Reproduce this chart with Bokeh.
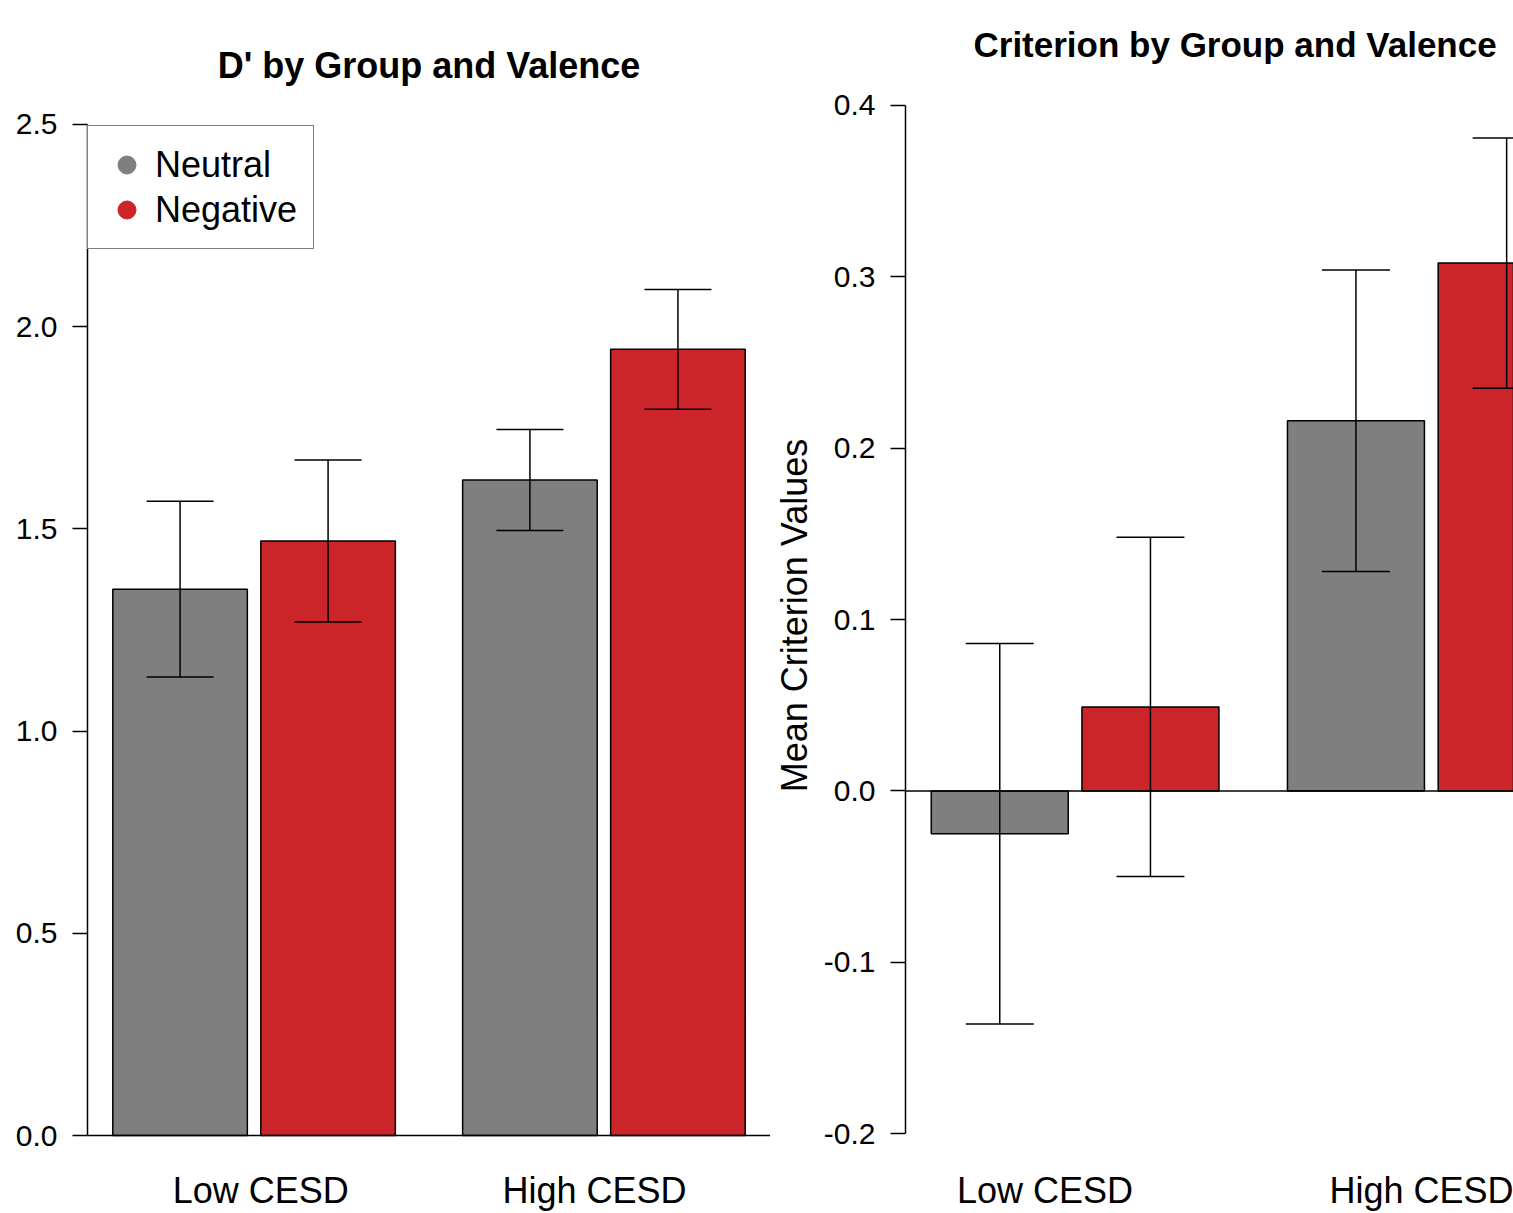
import numpy as np
from bokeh.plotting import figure
from bokeh.models import (ColumnDataSource, Range1d, FixedTicker, Span, Whisker, TeeHead,
                          Legend, LegendItem, NumeralTickFormatter)
from bokeh.layouts import row
from bokeh.embed import file_html
from bokeh.resources import INLINE

# ---------------- data ----------------
groups = ["Low CESD", "High CESD"]
valences = ["Neutral", "Negative"]

dprime_neutral = [1.351, 1.621]
dprime_negative = [1.470, 1.944]
dprime_neutral_err = [0.217, 0.125]
dprime_negative_err = [0.200, 0.148]

crit_neutral = [-0.025, 0.216]
crit_negative = [0.049, 0.308]
crit_neutral_err = [0.111, 0.088]
crit_negative_err = [0.099, 0.073]

dprime_ticks = [0.0, 0.5, 1.0, 1.5, 2.0, 2.5]
crit_ticks = [-0.2, -0.1, 0.0, 0.1, 0.2, 0.3, 0.4]

# ---------------- style / layout ----------------
FONT = "Liberation Sans"
COLORS = {"Neutral": "#7F7F7F", "Negative": "#CC2529"}
BAR_W, INNER_GAP, GROUP_GAP = 1.0, 0.1, 0.5
LW = 1.5
H = 1213
TOP = 64
BOTTOM = 46


def bar_x(g, v):
    return GROUP_GAP + g * (2 * BAR_W + INNER_GAP + GROUP_GAP) + v * (BAR_W + INNER_GAP) + BAR_W / 2


def make_source(means, errs, v):
    xs = [bar_x(g, v) for g in range(len(groups))]
    return ColumnDataSource(dict(
        x=xs, top=list(means),
        upper=[m + e for m, e in zip(means, errs)],
        lower=[m - e for m, e in zip(means, errs)],
    ))


def style_axes(p, ticks, bounds, label_pos):
    p.yaxis.ticker = FixedTicker(ticks=ticks)
    p.yaxis.bounds = bounds
    p.yaxis.formatter = NumeralTickFormatter(format="0.0")
    p.yaxis.major_label_text_font = FONT
    p.yaxis.major_label_text_font_size = "30px"
    p.yaxis.major_label_text_color = "black"
    p.yaxis.major_label_standoff = 15
    p.yaxis.major_tick_out = 15
    p.yaxis.major_tick_in = 0
    p.yaxis.minor_tick_out = 0
    p.yaxis.minor_tick_in = 0
    p.yaxis.axis_line_width = LW
    p.yaxis.major_tick_line_width = LW
    p.yaxis.axis_line_color = "black"
    p.yaxis.major_tick_line_color = "black"

    p.xaxis.ticker = FixedTicker(ticks=label_pos)
    p.xaxis.major_label_overrides = {pos: name for pos, name in zip(label_pos, groups)}
    p.xaxis.major_label_text_font = FONT
    p.xaxis.major_label_text_font_size = "36px"
    p.xaxis.major_label_text_color = "black"
    p.xaxis.major_label_standoff = 3
    p.xaxis.major_tick_line_color = None
    p.xaxis.minor_tick_line_color = None
    p.xaxis.axis_line_color = None
    p.xaxis.major_tick_out = 0
    p.xaxis.major_tick_in = 0

    p.xgrid.visible = False
    p.ygrid.visible = False
    p.outline_line_color = None
    p.title.text_font = FONT
    p.title.text_font_size = "36px"
    p.title.text_font_style = "bold"
    p.title.text_color = "black"
    p.title.standoff = 2


def draw_bars(p, src_n, src_g):
    for name, src in (("Neutral", src_n), ("Negative", src_g)):
        p.vbar(x="x", top="top", bottom=0, width=BAR_W, source=src,
               fill_color=COLORS[name], line_color="black", line_width=LW)
    p.add_layout(Span(location=0, dimension="width", line_color="black", line_width=LW))


def add_whiskers(p, src, cap_px):
    w = Whisker(source=src, base="x", upper="upper", lower="lower", dimension="height",
                line_color="black", line_width=LW, level="annotation",
                upper_head=TeeHead(size=cap_px, line_color="black", line_width=LW),
                lower_head=TeeHead(size=cap_px, line_color="black", line_width=LW))
    p.add_layout(w)


# ---------------- left: D' ----------------
srcL_n = make_source(dprime_neutral, dprime_neutral_err, 0)
srcL_g = make_source(dprime_negative, dprime_negative_err, 1)

p1 = figure(width=770, height=H, output_backend="svg", toolbar_location=None,
            title="D' by Group and Valence",
            x_range=Range1d(0.312, 5.388), y_range=Range1d(-0.0766, 2.6482),
            min_border_left=87, min_border_right=0, min_border_top=TOP, min_border_bottom=BOTTOM)
style_axes(p1, dprime_ticks, (0, 2.5), [1.60, 4.08])
p1.title.align = "center"
p1.title.standoff = -42
draw_bars(p1, srcL_n, srcL_g)
add_whiskers(p1, srcL_n, 67)
add_whiskers(p1, srcL_g, 67)

# legend-only marker renderers (no visible points)
leg_items = []
for name in valences:
    key_src = ColumnDataSource(dict(x=[np.nan], y=[np.nan]))
    r = p1.scatter(x="x", y="y", source=key_src, marker="circle", size=18,
                   fill_color=COLORS[name], line_color=COLORS[name])
    leg_items.append(LegendItem(label=name, renderers=[r]))
legend = Legend(items=leg_items, location=(0, 917), padding=16, spacing=0, margin=0,
                glyph_width=45, glyph_height=45, label_height=45, label_standoff=6,
                label_text_font=FONT, label_text_font_size="36px", label_text_color="black",
                border_line_color="black", border_line_width=LW, background_fill_alpha=1.0)
p1.add_layout(legend)

# ---------------- right: Criterion ----------------
srcR_n = make_source(crit_neutral, crit_neutral_err, 0)
srcR_g = make_source(crit_negative, crit_negative_err, 1)

p2 = figure(width=743, height=H, output_backend="svg", toolbar_location=None,
            title="Criterion by Group and Valence",
            x_range=Range1d(0.312, 4.750), y_range=Range1d(-0.2192, 0.4239),
            min_border_left=135, min_border_right=0, min_border_top=TOP, min_border_bottom=BOTTOM)
style_axes(p2, crit_ticks, (-0.2, 0.4), [1.33, 4.32])
p2.title.align = "left"
p2.title.offset = 68
p2.title.text_font_size = "35px"
p2.yaxis.axis_label = "Mean Criterion Values"
p2.yaxis.axis_label_text_font = FONT
p2.yaxis.axis_label_text_font_size = "36px"
p2.yaxis.axis_label_text_font_style = "normal"
p2.yaxis.axis_label_text_color = "black"
p2.yaxis.axis_label_standoff = 6
draw_bars(p2, srcR_n, srcR_g)
add_whiskers(p2, srcR_n, 68)
add_whiskers(p2, srcR_g, 68)

layout = row(p1, p2, spacing=0)
open("out.html", "w").write(file_html(layout, INLINE))
